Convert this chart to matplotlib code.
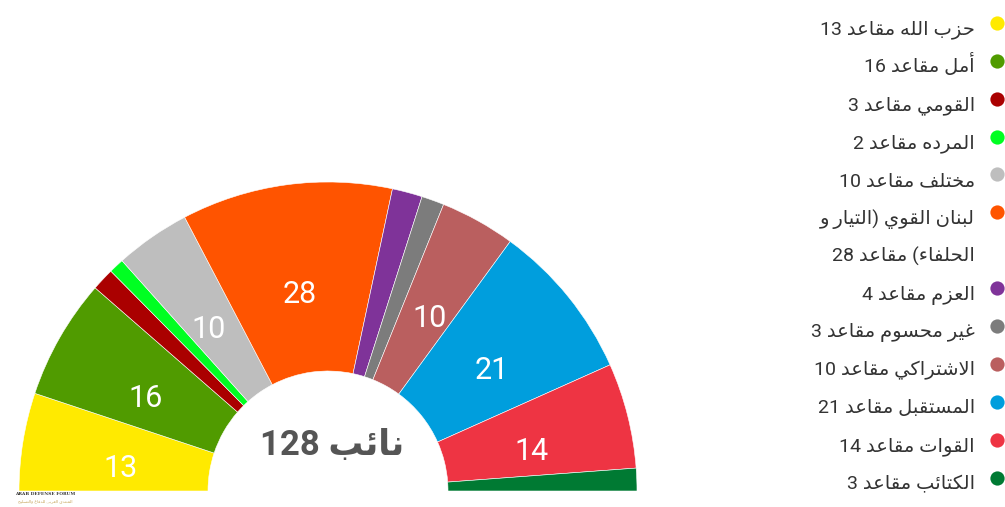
import matplotlib
matplotlib.use("Agg")
import matplotlib.pyplot as plt
import numpy as np

# seats per bloc, left to right around the half ring
parties = ["حزب الله", "أمل", "القومي", "المرده", "مختلف", "لبنان القوي (التيار و الحلفاء)",
           "العزم", "غير محسوم", "الاشتراكي", "المستقبل", "القوات", "الكتائب"]
seats = [13, 16, 3, 2, 10, 28, 4, 3, 10, 21, 14, 3]
colors = ["#FFEA00", "#509B00", "#AA0000", "#00FF22", "#BEBEBE", "#FF5400",
          "#7F3399", "#7C7C7C", "#BA5F5F", "#009EDD", "#EE3443", "#007A33"]
legend_lines = [
    ["حزب الله مقاعد 13"],
    ["أمل مقاعد 16"],
    ["القومي مقاعد 3"],
    ["المرده مقاعد 2"],
    ["مختلف مقاعد 10"],
    ["لبنان القوي (التيار و", "الحلفاء) مقاعد 28"],
    ["العزم مقاعد 4"],
    ["غير محسوم مقاعد 3"],
    ["الاشتراكي مقاعد 10"],
    ["المستقبل مقاعد 21"],
    ["القوات مقاعد 14"],
    ["الكتائب مقاعد 3"],
]
center_title = "نائب 128"

# --- minimal arabic shaping (presentation forms) + visual ordering ---
FORMS = {  # isolated, final, initial, medial
    'ا': (0xFE8D, 0xFE8E, None, None), 'أ': (0xFE83, 0xFE84, None, None),
    'ب': (0xFE8F, 0xFE90, 0xFE91, 0xFE92), 'ت': (0xFE95, 0xFE96, 0xFE97, 0xFE98),
    'ح': (0xFEA1, 0xFEA2, 0xFEA3, 0xFEA4), 'خ': (0xFEA5, 0xFEA6, 0xFEA7, 0xFEA8),
    'د': (0xFEA9, 0xFEAA, None, None), 'ر': (0xFEAD, 0xFEAE, None, None),
    'ز': (0xFEAF, 0xFEB0, None, None), 'س': (0xFEB1, 0xFEB2, 0xFEB3, 0xFEB4),
    'ش': (0xFEB5, 0xFEB6, 0xFEB7, 0xFEB8), 'ع': (0xFEC9, 0xFECA, 0xFECB, 0xFECC),
    'غ': (0xFECD, 0xFECE, 0xFECF, 0xFED0), 'ف': (0xFED1, 0xFED2, 0xFED3, 0xFED4),
    'ق': (0xFED5, 0xFED6, 0xFED7, 0xFED8), 'ك': (0xFED9, 0xFEDA, 0xFEDB, 0xFEDC),
    'ل': (0xFEDD, 0xFEDE, 0xFEDF, 0xFEE0), 'م': (0xFEE1, 0xFEE2, 0xFEE3, 0xFEE4),
    'ن': (0xFEE5, 0xFEE6, 0xFEE7, 0xFEE8), 'ه': (0xFEE9, 0xFEEA, 0xFEEB, 0xFEEC),
    'و': (0xFEED, 0xFEEE, None, None), 'ي': (0xFEF1, 0xFEF2, 0xFEF3, 0xFEF4),
    'ئ': (0xFE89, 0xFE8A, 0xFE8B, 0xFE8C), 'ء': (0xFE80, None, None, None),
}
LAM_ALEF = {'ا': (0xFEFB, 0xFEFC), 'أ': (0xFEF7, 0xFEF8)}


def dual(c):
    return c in FORMS and FORMS[c][2] is not None


def joins(c):
    return c in FORMS and FORMS[c][1] is not None


def shape(s):
    out = []
    i = 0
    while i < len(s):
        c = s[i]
        if c not in FORMS:
            out.append(c)
            i += 1
            continue
        prev = s[i - 1] if i > 0 else ''
        jp = dual(prev) and joins(c)
        if c == 'ل' and i + 1 < len(s) and s[i + 1] in LAM_ALEF:
            out.append(chr(LAM_ALEF[s[i + 1]][1 if jp else 0]))
            i += 2
            continue
        nxt = s[i + 1] if i + 1 < len(s) else ''
        jn = dual(c) and joins(nxt)
        f = FORMS[c]
        if jp and jn:
            code = f[3]
        elif jp:
            code = f[1]
        elif jn:
            code = f[2]
        else:
            code = f[0]
        out.append(chr(code))
        i += 1
    return ''.join(out)


def visual(s):
    s = shape(s)
    runs, cur, isdig = [], '', None
    for ch in s:
        d = ch.isdigit()
        if isdig is None or d == isdig:
            cur += ch
        else:
            runs.append((cur, isdig))
            cur = ch
        isdig = d
    runs.append((cur, isdig))
    mirror = {'(': ')', ')': '('}
    parts = []
    for txt, d in reversed(runs):
        if d:
            parts.append(txt)
        else:
            parts.append(''.join(mirror.get(ch, ch) for ch in reversed(txt)))
    return ''.join(parts)


FONT = ['Roboto', 'DejaVu Sans']
W, H = 1005, 507

fig = plt.figure(figsize=(W / 100, H / 100), dpi=100)
ax = fig.add_axes([0, 0, 1, 1])

cx, cy = 328, H - 491
r_out, r_in = 309, 120
total = sum(seats)

wedges, _ = ax.pie(seats + [total], colors=colors + ["white"], startangle=180,
                   counterclock=False, radius=r_out, center=(cx, cy),
                   wedgeprops=dict(width=r_out - r_in, edgecolor="white", linewidth=0.4))
wedges[-1].set_visible(False)

# value labels inside the bigger slices
cum = 0
for v in seats:
    mid = 180 - (cum + v / 2) / total * 180
    cum += v
    if v < 10:
        continue
    a = np.radians(mid)
    x = cx + 210 * np.cos(a)
    y = cy + 210 * np.sin(a) - 9 - 11
    ax.text(x, y, str(v), color="white", fontsize=22, family=FONT,
            ha="center", va="baseline")

ax.text(cx + 4, H - 455, visual(center_title), color="#555555", fontsize=25,
        fontweight="bold", family=FONT, ha="center", va="baseline")

# legend
row = 0
for lines, col in zip(legend_lines, colors):
    base = 34.3 + 37.9 * row
    ax.scatter([997], [H - (base - 11.5)], s=105, color=col, zorder=3, linewidths=0)
    for k, line in enumerate(lines):
        b = 34.3 + 37.9 * (row + k)
        ax.text(975, H - b, visual(line), color="#333333", fontsize=14,
                family=FONT, ha="right", va="baseline")
    row += len(lines)

# watermark
ax.text(45, H - 495, "ARAB DEFENSE FORUM", color="#3a3a3a", fontsize=3.2,
        family="DejaVu Serif", fontweight="bold", ha="center", va="baseline")
ax.text(45, H - 502, visual("المنتدى العربي للدفاع والتسليح"), color="#c8a860",
        fontsize=3.2, family=FONT, ha="center", va="baseline")

ax.set_xlim(0, W)
ax.set_ylim(0, H)
ax.set_aspect("auto")
ax.axis("off")

fig.savefig("out.png", dpi=100)
